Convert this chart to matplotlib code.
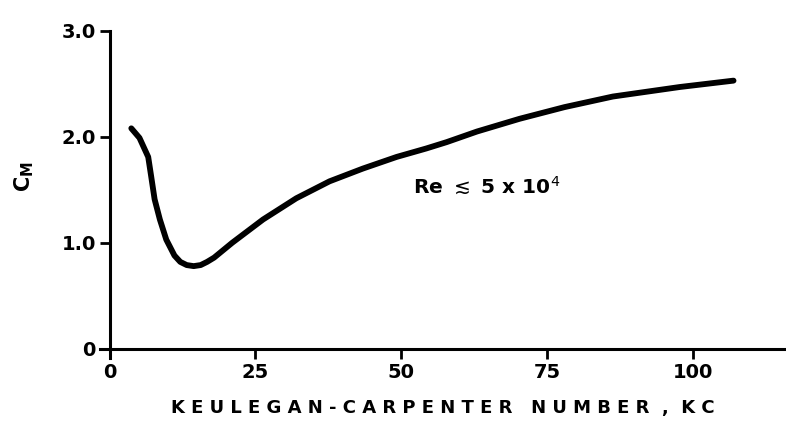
import matplotlib.pyplot as plt

# values
kc = [3.7, 5.1, 6.6, 7.1, 7.7, 8.6, 9.7, 11.1, 12.1, 13.2, 14.4, 15.6, 16.7, 17.9, 21.0,
      26.3, 32.0, 37.7, 43.4, 49.2, 54.3, 57.8, 63.0, 70.3, 78.0, 86.3, 97.8, 107.0]
cm = [2.08, 1.99, 1.81, 1.63, 1.41, 1.22, 1.03, 0.88, 0.82, 0.79, 0.78, 0.79, 0.82, 0.86, 1.00,
      1.22, 1.42, 1.58, 1.70, 1.81, 1.89, 1.95, 2.05, 2.17, 2.28, 2.38, 2.47, 2.53]

xticks = [0, 25, 50, 75, 100]
xlabels = ['0', '25', '50', '75', '100']
yticks = [0, 1.0, 2.0, 3.0]
ylabels = ['0', '1.0', '2.0', '3.0']

fig = plt.figure(figsize=(7.86, 4.28), dpi=100)
ax = fig.add_axes([0.127, 0.164, 0.873, 0.764])

ax.plot(kc, cm, color='black', lw=4.2, solid_capstyle='round', solid_joinstyle='round')

ax.set_xlim(-1.7, 116)
ax.set_ylim(-0.085, 3.0)
ax.spines['left'].set_position(('data', 0))
ax.spines['bottom'].set_position(('data', 0))
ax.spines['right'].set_visible(False)
ax.spines['top'].set_visible(False)
for s in ('left', 'bottom'):
    ax.spines[s].set_linewidth(2.2)
ax.spines['left'].set_bounds(-0.085, 3.0)

ax.set_xticks(xticks)
ax.set_xticklabels(xlabels)
ax.set_yticks(yticks)
ax.set_yticklabels(ylabels)
ax.tick_params(axis='both', direction='out', length=7, width=2, labelsize=14, pad=3)
for t in ax.get_xticklabels() + ax.get_yticklabels():
    t.set_fontweight('bold')

ax.set_xlabel('K E U L E G A N - C A R P E N T E R   N U M B E R  ,  K C',
              fontsize=13, fontweight='bold')
ax.xaxis.set_label_coords(0.5, -0.127)
ax.set_ylabel(r'$\mathbf{C_M}$', fontsize=15)
ax.yaxis.set_label_coords(-0.093, 0.553)

ax.text(52, 1.53, r'Re $\lesssim$ 5 x 10$^4$', fontsize=14.5, fontweight='bold',
        ha='left', va='center')

fig.savefig('out.png', dpi=100)
